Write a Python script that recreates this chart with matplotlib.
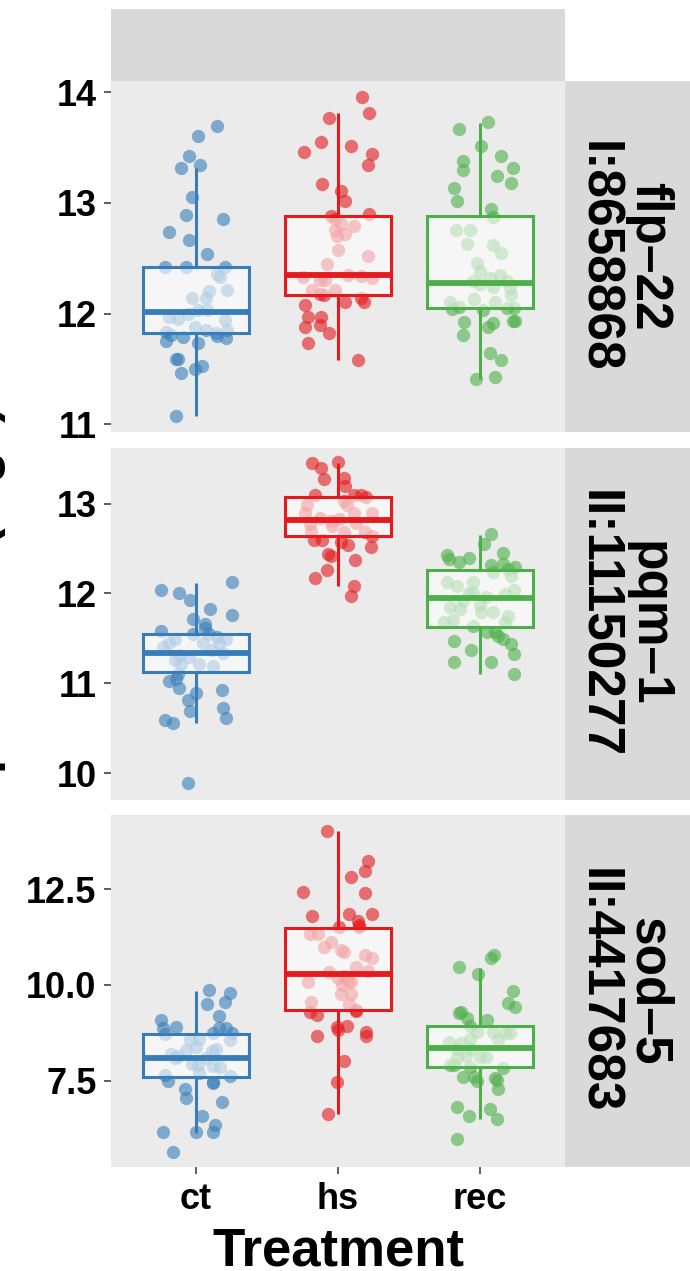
import matplotlib
matplotlib.use("Agg")
import matplotlib.pyplot as plt
from matplotlib.patches import Rectangle

plt.rcParams['font.family'] = ['Liberation Sans', 'DejaVu Sans']
plt.rcParams['font.weight'] = 'bold'

W, H = 690, 1271

treatments = ["ct", "hs", "rec"]
palette = ["#377EB8", "#E41A1C", "#4DAF4A"]
strip_labels = ["flp–22\nI:8658868", "pqm–1\nII:11150277", "sod–5\nII:4417683"]
y_label = "Expression (log2)"
x_label = "Treatment"

# ---- flp-22 ----
flp22_ct_val = [13.69, 13.60, 13.42, 13.31, 13.34, 13.05, 12.89, 12.85, 12.74, 12.66, 12.54, 12.42, 12.42, 12.42,
                12.36, 12.33, 12.21, 12.20, 12.14, 12.14, 12.00, 12.03, 12.03, 11.97, 11.95, 11.94, 11.88, 11.83,
                11.81, 11.85, 11.82, 11.85, 11.79, 11.80, 11.78, 11.75, 11.73, 11.59, 11.59, 11.50, 11.53, 11.46, 11.07]
flp22_ct_jit = [0.15, 0.01, -0.05, -0.11, 0.03, -0.03, -0.07, 0.19, -0.19, -0.05, 0.08, -0.22, -0.07, 0.20,
                0.15, 0.17, 0.22, 0.09, -0.03, 0.07, -0.06, 0.01, 0.08, -0.19, -0.13, 0.20, -0.01, -0.21,
                -0.18, 0.07, 0.14, 0.22, -0.09, 0.15, 0.21, -0.21, 0.01, -0.14, -0.13, -0.01, 0.04, -0.11, -0.14]
flp22_hs_val = [13.96, 13.81, 13.77, 13.55, 13.46, 13.51, 13.44, 13.34, 13.17, 13.11, 13.02, 12.90, 12.88, 12.85,
                12.81, 12.79, 12.75, 12.72, 12.70, 12.57, 12.52, 12.45, 12.33, 12.35, 12.34, 12.32, 12.30, 12.30,
                12.21, 12.18, 12.17, 12.21, 12.10, 12.14, 12.10, 12.08, 11.97, 11.97, 11.88, 11.90, 11.82, 11.73, 11.58]
flp22_hs_jit = [0.17, 0.22, -0.06, -0.12, -0.24, 0.09, 0.24, 0.21, -0.11, 0.02, 0.05, 0.22, -0.05, -0.02,
                0.02, 0.11, -0.02, 0.05, -0.01, 0.00, 0.21, -0.08, -0.25, 0.07, 0.16, 0.24, -0.13, -0.09,
                -0.18, -0.13, -0.10, -0.02, 0.05, 0.16, 0.18, -0.23, -0.21, -0.12, -0.23, -0.13, -0.06, -0.21, 0.14]
flp22_rec_val = [13.73, 13.67, 13.51, 13.42, 13.38, 13.30, 13.31, 13.24, 13.18, 13.13, 13.02, 12.94, 12.87, 12.75,
                 12.75, 12.63, 12.62, 12.55, 12.46, 12.38, 12.32, 12.35, 12.29, 12.27, 12.29, 12.24, 12.23, 12.17,
                 12.13, 12.10, 12.10, 12.06, 12.04, 12.03, 12.05, 12.05, 11.92, 11.91, 11.88, 11.93, 11.93, 11.81,
                 11.64, 11.58, 11.41, 11.43]
flp22_rec_jit = [0.06, -0.15, 0.01, 0.15, -0.12, -0.12, 0.23, 0.12, 0.22, -0.18, -0.16, 0.08, 0.09, -0.17,
                 -0.07, -0.09, 0.09, 0.15, -0.02, 0.00, 0.07, 0.14, -0.05, 0.00, 0.19, 0.09, 0.21, 0.22,
                 -0.04, 0.11, -0.21, -0.15, -0.20, 0.02, 0.19, 0.24, -0.11, 0.09, 0.06, 0.23, 0.25, -0.12,
                 0.07, 0.15, -0.03, 0.11]

# ---- pqm-1 ----
pqm1_ct_val = [12.13, 12.04, 12.00, 11.93, 11.83, 11.76, 11.72, 11.66, 11.62, 11.58, 11.55, 11.55, 11.52, 11.49,
               11.49, 11.45, 11.45, 11.45, 11.40, 11.37, 11.34, 11.31, 11.29, 11.26, 11.21, 11.21, 11.19, 11.10,
               11.03, 11.05, 10.95, 10.93, 10.89, 10.81, 10.73, 10.69, 10.59, 10.56, 10.61, 9.89]
pqm1_ct_jit = [0.25, -0.25, -0.12, -0.04, 0.10, 0.25, -0.02, 0.06, 0.06, -0.25, -0.02, 0.09, 0.15, 0.21,
               -0.15, -0.19, 0.05, 0.16, -0.23, 0.11, 0.19, -0.12, -0.05, -0.15, -0.11, 0.02, 0.12, -0.13,
               -0.19, -0.14, -0.12, 0.18, 0.00, -0.06, 0.19, -0.04, -0.22, -0.16, 0.21, -0.06]
pqm1_hs_val = [13.45, 13.40, 13.46, 13.27, 13.29, 13.20, 13.10, 13.10, 13.10, 13.07, 12.99, 13.03, 12.98, 12.90,
               12.84, 12.81, 12.83, 12.90, 12.90, 12.79, 12.77, 12.75, 12.68, 12.70, 12.68, 12.64, 12.60, 12.60,
               12.57, 12.54, 12.52, 12.44, 12.42, 12.37, 12.26, 12.17, 12.08, 11.97]
pqm1_hs_jit = [-0.18, -0.12, 0.00, -0.10, 0.04, 0.05, -0.16, 0.11, 0.16, 0.20, -0.22, 0.04, 0.06, -0.23,
               -0.13, -0.05, 0.01, 0.11, 0.24, 0.13, -0.20, -0.04, 0.19, -0.19, 0.04, 0.24, -0.17, -0.11,
               0.02, 0.07, 0.23, -0.07, -0.05, 0.12, -0.08, -0.16, 0.11, 0.09]
pqm1_rec_val = [12.66, 12.55, 12.45, 12.43, 12.39, 12.38, 12.35, 12.32, 12.33, 12.29, 12.24, 12.27, 12.19, 12.13,
                12.08, 12.13, 12.04, 12.01, 12.00, 11.96, 11.99, 11.92, 11.87, 11.85, 11.83, 11.79, 11.79, 11.75,
                11.68, 11.71, 11.64, 11.68, 11.57, 11.57, 11.53, 11.49, 11.47, 11.44, 11.37, 11.33, 11.24, 11.24, 11.10]
pqm1_rec_jit = [0.08, 0.03, 0.16, -0.23, -0.08, -0.22, -0.15, 0.08, 0.16, 0.25, 0.09, 0.20, 0.22, -0.23,
                -0.16, -0.05, 0.24, -0.08, -0.05, 0.04, 0.18, -0.12, 0.00, -0.21, -0.14, 0.01, 0.09, 0.20,
                -0.25, -0.19, -0.05, 0.18, 0.05, 0.11, 0.13, 0.16, -0.18, 0.22, -0.06, 0.24, -0.18, 0.08, 0.24]

# ---- sod-5 ----
sod5_ct_val = [9.86, 9.80, 9.49, 9.55, 9.20, 9.09, 8.89, 8.87, 8.87, 8.87, 8.75, 8.75, 8.72, 8.55, 8.58, 8.56,
               8.37, 8.30, 8.19, 8.28, 8.32, 8.14, 8.08, 8.08, 7.93, 7.91, 7.89, 7.87, 7.69, 7.65, 7.63, 7.50,
               7.47, 7.45, 7.28, 7.06, 6.93, 6.58, 6.33, 6.15, 6.15, 6.15, 5.63]
sod5_ct_jit = [0.09, 0.24, 0.08, 0.20, 0.16, -0.25, -0.14, -0.23, 0.16, 0.21, 0.12, 0.25, -0.22, -0.04, 0.02, 0.24,
               0.00, -0.07, -0.18, 0.11, 0.14, -0.13, -0.15, 0.07, -0.03, 0.01, 0.12, 0.17, 0.02, -0.22, 0.24, -0.20,
               0.12, 0.12, -0.08, -0.07, 0.18, 0.04, 0.13, -0.23, 0.00, 0.12, -0.16]
sod5_hs_val = [14.02, 13.24, 12.98, 12.83, 12.42, 12.41, 11.80, 11.86, 11.86, 11.67, 11.57, 11.51, 11.52, 11.33,
               11.33, 11.11, 11.00, 10.91, 10.85, 10.77, 10.71, 10.48, 10.35, 10.37, 10.24, 10.11, 10.07, 10.17,
               10.09, 10.00, 9.76, 9.76, 9.56, 9.49, 9.30, 9.22, 9.35, 9.32, 8.91, 8.82, 8.94, 8.68, 8.78, 8.68,
               8.01, 7.47, 6.62]
sod5_hs_jit = [-0.08, 0.21, 0.19, 0.09, -0.25, 0.19, -0.18, 0.08, 0.24, 0.14, 0.15, 0.01, 0.15, -0.20,
               -0.14, -0.05, -0.10, 0.02, 0.04, 0.19, 0.24, 0.13, -0.06, 0.21, 0.04, 0.07, -0.21, 0.00,
               0.09, 0.03, 0.02, 0.09, -0.19, 0.08, -0.20, -0.15, 0.13, 0.13, -0.01, 0.00, 0.06, -0.15, 0.20, 0.20,
               0.04, -0.01, -0.07]
sod5_rec_val = [10.77, 10.70, 10.46, 10.28, 9.85, 9.52, 9.43, 9.30, 9.26, 9.15, 9.09, 8.93, 8.78, 8.78, 8.74,
                8.75, 8.58, 8.59, 8.50, 8.48, 8.32, 8.32, 8.14, 8.13, 8.13, 8.08, 7.91, 7.91, 7.87, 7.82, 7.59,
                7.60, 7.49, 7.56, 7.53, 7.27, 6.82, 6.75, 6.58, 6.50, 5.97]
sod5_rec_jit = [0.10, 0.08, -0.15, -0.01, 0.23, 0.20, 0.25, -0.13, -0.15, -0.09, 0.05, -0.07, 0.09, -0.02, 0.18,
                0.21, -0.07, 0.13, -0.22, -0.13, -0.16, -0.06, -0.10, 0.00, 0.04, -0.16, -0.18, -0.21, -0.07, 0.16,
                -0.12, -0.04, -0.02, 0.11, 0.12, 0.13, -0.16, 0.07, -0.08, 0.12, -0.16]

# box summaries per treatment: (lower whisker, Q1, median, Q3, upper whisker)
flp22_box = [(11.07, 11.82, 12.01, 12.42, 13.31),
             (11.58, 12.17, 12.35, 12.88, 13.81),
             (11.41, 12.05, 12.28, 12.88, 13.72)]
pqm1_box = [(10.56, 11.12, 11.34, 11.55, 12.12),
            (12.08, 12.64, 12.82, 13.07, 13.45),
            (11.10, 11.63, 11.95, 12.26, 12.65)]
sod5_box = [(6.14, 7.60, 8.08, 8.71, 9.84),
            (6.62, 9.35, 10.29, 11.50, 14.01),
            (6.50, 7.87, 8.35, 8.93, 10.45)]

flp22_ticks = [11, 12, 13, 14]
pqm1_ticks = [10, 11, 12, 13]
sod5_ticks = [7.5, 10.0, 12.5]
sod5_ticklabels = ["7.5", "10.0", "12.5"]

panels = [
    dict(vals=[flp22_ct_val, flp22_hs_val, flp22_rec_val], jits=[flp22_ct_jit, flp22_hs_jit, flp22_rec_jit],
         box=flp22_box, ylim=(10.93, 14.10), ticks=flp22_ticks, ticklabels=[str(t) for t in flp22_ticks],
         top=81, bottom=432),
    dict(vals=[pqm1_ct_val, pqm1_hs_val, pqm1_rec_val], jits=[pqm1_ct_jit, pqm1_hs_jit, pqm1_rec_jit],
         box=pqm1_box, ylim=(9.70, 13.62), ticks=pqm1_ticks, ticklabels=[str(t) for t in pqm1_ticks],
         top=448, bottom=800),
    dict(vals=[sod5_ct_val, sod5_hs_val, sod5_rec_val], jits=[sod5_ct_jit, sod5_hs_jit, sod5_rec_jit],
         box=sod5_box, ylim=(5.245, 14.44), ticks=sod5_ticks, ticklabels=sod5_ticklabels,
         top=815, bottom=1167),
]

PANEL_BG = "#EBEBEB"
STRIP_BG = "#D9D9D9"
TICK_COL = "#333333"
x0, x1 = 111, 565

fig = plt.figure(figsize=(W / 100, H / 100), dpi=100)
fig.patch.set_facecolor("white")

def fx(px):
    return px / W

def fy(py):
    return 1 - py / H

# empty column strip across the top
fig.add_artist(Rectangle((fx(x0), fy(81)), fx(x1) - fx(x0), fy(9) - fy(81),
                         transform=fig.transFigure, facecolor=STRIP_BG, edgecolor="none"))

positions = [1, 2, 3]
axes = []
for i, p in enumerate(panels):
    ax = fig.add_axes([fx(x0), fy(p["bottom"]), fx(x1) - fx(x0), (p["bottom"] - p["top"]) / H])
    axes.append(ax)
    ax.set_facecolor(PANEL_BG)
    for s in ax.spines.values():
        s.set_visible(False)

    # jittered observations
    for pos, col, v, j in zip(positions, palette, p["vals"], p["jits"]):
        ax.scatter([pos + d for d in j], v, s=92, color=col, alpha=0.6, linewidths=0, zorder=2)

    # boxes on top
    stats = [dict(whislo=b[0], q1=b[1], med=b[2], q3=b[3], whishi=b[4]) for b in p["box"]]
    art = ax.bxp(stats, positions=positions, widths=0.75, patch_artist=True, showfliers=False,
                 showcaps=False, manage_ticks=False, zorder=3)
    for k, col in enumerate(palette):
        bx = art["boxes"][k]
        bx.set_facecolor((1, 1, 1, 0.6))
        bx.set_edgecolor(col)
        bx.set_linewidth(2.2)
        bx.set_joinstyle("miter")
        md = art["medians"][k]
        md.set_color(col)
        md.set_linewidth(4.2)
        md.set_solid_capstyle("butt")
        for w in art["whiskers"][2 * k:2 * k + 2]:
            w.set_color(col)
            w.set_linewidth(2.2)
            w.set_solid_capstyle("butt")

    ax.set_xlim(0.4, 3.6)
    ax.set_ylim(*p["ylim"])
    ax.set_yticks(p["ticks"])
    ax.set_yticklabels(p["ticklabels"])
    ax.tick_params(axis="y", length=5, width=1.1, color=TICK_COL, pad=5.5, labelsize=26,
                   labelcolor="black")
    if i < 2:
        ax.set_xticks([])
    else:
        ax.set_xticks(positions)
        ax.set_xticklabels(treatments)
        ax.tick_params(axis="x", length=5, width=1.1, color=TICK_COL, pad=6, labelsize=26,
                       labelcolor="black")
    for lab in ax.get_yticklabels() + ax.get_xticklabels():
        lab.set_fontweight("bold")

    # row strip on the right
    fig.add_artist(Rectangle((fx(x1), fy(p["bottom"])), fx(W + 5) - fx(x1), (p["bottom"] - p["top"]) / H,
                             transform=fig.transFigure, facecolor=STRIP_BG, edgecolor="none"))
    fig.text(fx(623), fy((p["top"] + p["bottom"]) / 2), strip_labels[i], rotation=270,
             ha="center", va="center", fontsize=37, fontweight="bold", linespacing=1.05,
             multialignment="center", color="black")

fig.text(fx((x0 + x1) / 2), fy(1265), x_label, ha="center", va="baseline",
         fontsize=38, fontweight="bold")
fig.text(fx(6), fy(620), y_label, rotation=90, ha="right", va="center",
         fontsize=37, fontweight="bold")

fig.savefig("out.png", dpi=100)
